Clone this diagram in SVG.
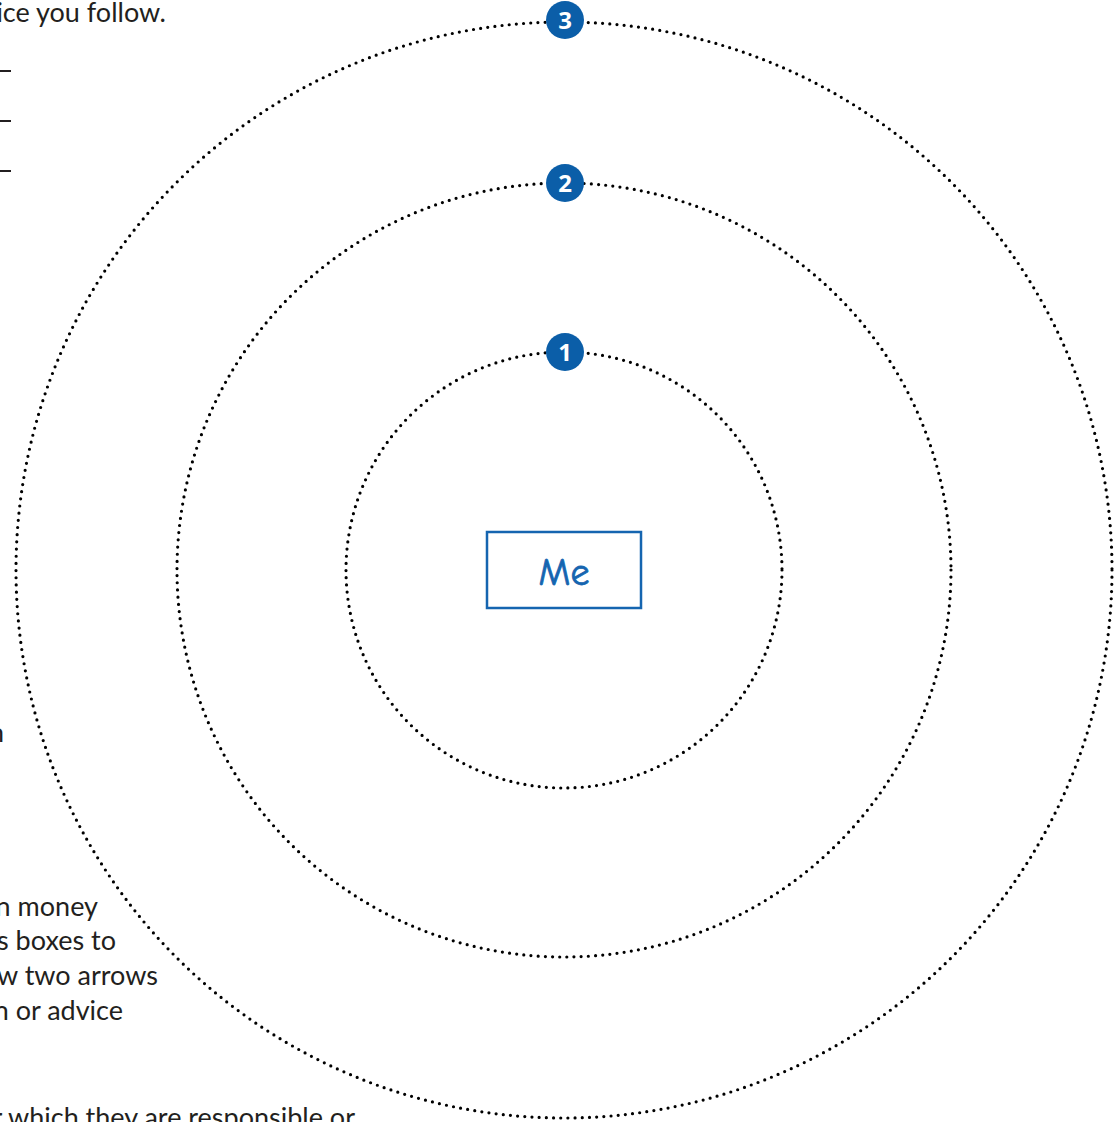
<svg xmlns="http://www.w3.org/2000/svg" width="1117" height="1122" viewBox="0 0 1117 1122">
<style>
.ring{fill:none;stroke:#000;stroke-width:3.2;stroke-linecap:round;stroke-dasharray:0 7.2}
.badge{fill:#0b5ea8}
.num{fill:#fff;font-family:"Open Sans","Liberation Sans",sans-serif;font-weight:700;font-size:24px;text-anchor:middle}
.body{fill:#231f20;font-family:Lato,"Liberation Sans",sans-serif;font-size:27px}
.rule{stroke:#231f20;stroke-width:2}
</style>
<rect width="1117" height="1122" fill="#fff"/>
<g id="left-text">
<text class="body" x="166" y="22" text-anchor="end">ice you follow.</text>
<line class="rule" x1="0" y1="71" x2="11" y2="71"/>
<line class="rule" x1="0" y1="121" x2="11" y2="121"/>
<line class="rule" x1="0" y1="171" x2="11" y2="171"/>
<text class="body" x="4" y="742" text-anchor="end">n</text>
<text class="body" x="98" y="916" text-anchor="end">n money</text>
<text class="body" x="116" y="950" text-anchor="end">s boxes to</text>
<text class="body" x="158" y="985" text-anchor="end">w two arrows</text>
<text class="body" x="123" y="1020" text-anchor="end">n or advice</text>
<text class="body" x="355" y="1127" text-anchor="end">r which they are responsible or</text>
</g>
<g id="connectors">
<circle class="ring" cx="564" cy="570" r="548"/>
<circle class="ring" cx="564" cy="570" r="387"/>
<circle class="ring" cx="564" cy="570" r="218"/>
</g>
<g id="badge-3">
<circle class="badge" cx="565" cy="20" r="19"/>
<text class="num" x="565" y="28.5">3</text>
</g>
<g id="badge-2">
<circle class="badge" cx="565" cy="183" r="19"/>
<text class="num" x="565" y="191.5">2</text>
</g>
<g id="badge-1">
<circle class="badge" cx="565" cy="352" r="19"/>
<text class="num" x="565" y="360.5">1</text>
</g>
<g id="me">
<rect x="487" y="532" width="154" height="76" fill="#fff" stroke="#1565b0" stroke-width="2.5"/>
<text x="564" y="585" text-anchor="middle" fill="#1565b0" stroke="#1565b0" stroke-width="0.8" font-family="'Comic Sans MS','Comic Neue',cursive" font-size="38">Me</text>
</g>
</svg>
